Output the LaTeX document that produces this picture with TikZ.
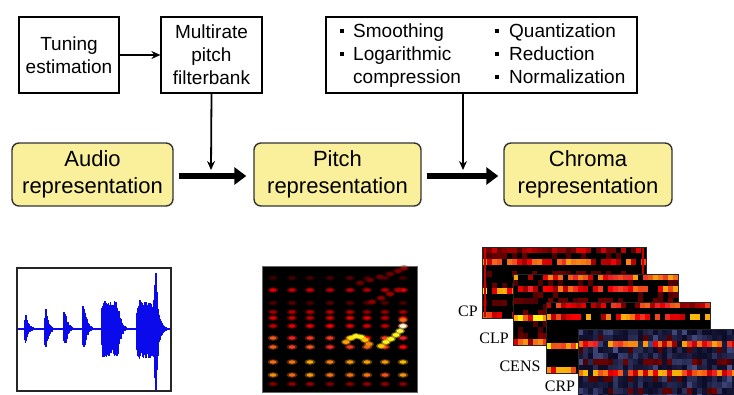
\documentclass[tikz,border=0pt]{standalone}
\usepackage{fontspec}
\setmainfont{Liberation Sans}
\newfontfamily\lblfont{Liberation Serif}
\usetikzlibrary{arrows.meta,calc}
\definecolor{boxyellow}{RGB}{250,240,155}
\definecolor{wave}{RGB}{10,10,235}
\definecolor{crpdark}{RGB}{12,12,40}
\definecolor{crplight}{RGB}{80,90,150}
\colorlet{hc}{black}
\newcommand\hotcol[1]{%
  \pgfmathsetmacro\hv{min(1,max(0,#1))}%
  \ifdim\hv pt<0.33pt
    \pgfmathtruncatemacro\hp{\hv/0.33*100}\colorlet{hc}{red!\hp!black}%
  \else\ifdim\hv pt<0.67pt
    \pgfmathtruncatemacro\hp{(\hv-0.33)/0.34*100}\colorlet{hc}{yellow!\hp!red}%
  \else
    \pgfmathtruncatemacro\hp{(\hv-0.67)/0.33*100}\colorlet{hc}{white!\hp!yellow}%
  \fi\fi}
% x0, y0, w, h, last col index, row weights, blue background flag
\newcommand\chromamap[7]{%
  \fill[black] (#1,#2) rectangle ++(#3,#4);
  \pgfmathsetmacro\cw{#3/(#5+1)}%
  \pgfmathsetmacro\rh{#4/12}%
  \foreach \rw [count=\ri from 0] in {#6} {
    \foreach \cc in {0,...,#5} {
      \pgfmathsetmacro\cval{\rw*(0.35+0.65*rnd)*(rnd<0.85)}%
      \ifdim\cval pt>0.1pt
        \hotcol{\cval}%
        \fill[hc] ({#1+\cc*\cw},{#2+\ri*\rh}) rectangle ++(\cw,\rh);
      \else
        \ifnum#7=1
          \pgfmathtruncatemacro\bp{100*rnd*rnd}%
          \fill[crplight!\bp!crpdark] ({#1+\cc*\cw},{#2+\ri*\rh}) rectangle ++(\cw,\rh);
        \fi
      \fi
    }
  }
  \draw[black!85, line width=1pt] (#1,#2) rectangle ++(#3,#4);
}
% x0, len, amp up, amp down, sustain, decay
\newcommand\burst[6]{%
  \foreach \tpos in {0,0.5,...,#2} {
    \pgfmathsetmacro\env{min(1,\tpos/1.2)*((\tpos<#5)+(\tpos>=#5)*exp(-max(0,\tpos-#5)/#6))}%
    \pgfmathsetmacro\wup{#3*\env*(0.55+0.45*rnd)}%
    \pgfmathsetmacro\wdn{#4*\env*(0.55+0.45*rnd)}%
    \draw[wave, line width=1.1pt] ({#1+\tpos},{329-\wup}) -- ({#1+\tpos},{329+\wdn});
  }}
\begin{document}
\begin{tikzpicture}[x=1pt,y=-1pt,
  smallbox/.style={draw=black, line width=1.2pt, fill=white, minimum width=100pt,
    minimum height=76pt, align=center, font=\fontsize{19}{23}\selectfont, inner sep=0pt},
  mainbox/.style={draw=black!80, line width=1.4pt, fill=boxyellow, rounded corners=7pt,
    minimum height=63pt, align=center, font=\fontsize{22}{27}\selectfont, inner sep=0pt},
  thinarrow/.style={-{Stealth[length=9pt,width=8pt,inset=3pt]}, line width=1.8pt},
  thickarrow/.style={-{Triangle[length=12pt,width=17pt]}, line width=6.5pt},
  bul/.style={fill=black, minimum size=4.5pt, inner sep=0pt},
  itm/.style={anchor=base west, font=\fontsize{19}{23}\selectfont, inner sep=0pt},
  lbl/.style={font=\lblfont\fontsize{16}{16}\selectfont, inner sep=0pt}]
\useasboundingbox[fill=white] (0,0) rectangle (734,394);
\pgfmathsetseed{7}

% top boxes
\node[smallbox] (tune) at (69,55) {Tuning\\estimation};
\node[smallbox, minimum width=101pt] (multi) at (211.5,55) {Multirate\\pitch\\filterbank};
\node[draw=black, line width=1.2pt, fill=white, minimum width=311pt, minimum height=76pt, inner sep=0pt] (ops) at (481.5,55) {};
\node[itm] (i1) at (353,37) {Smoothing};
\node[itm] (i2) at (353,60) {Logarithmic};
\node[itm] (i3) at (353,83) {compression};
\node[itm] (i4) at (509,37) {Quantization};
\node[itm] (i5) at (509,60) {Reduction};
\node[itm] (i6) at (509,83) {Normalization};
\node[bul] (b1) at (342,31) {};
\node[bul] (b2) at (342,54) {};
\node[bul] (b4) at (497,31) {};
\node[bul] (b5) at (497,54) {};
\node[bul] (b6) at (497,77) {};

% main boxes
\node[mainbox, minimum width=161pt] (audio) at (92.5,174.5) {Audio\\representation};
\node[mainbox, minimum width=167pt] (pitch) at (337.5,174.5) {Pitch\\representation};
\node[mainbox, minimum width=168pt] (chroma) at (588,174.5) {Chroma\\representation};

% arrows
\draw[thinarrow] (tune) -- (multi);
\coordinate (j1) at (211,170);
\draw[thinarrow] (multi.south) -- (j1);
\coordinate (j2) at (463,170);
\draw[thinarrow] (ops.south -| j2) -- (j2);
\draw[thickarrow] ([xshift=5pt,yshift=-1.5pt]audio.east) -- ([xshift=-7pt,yshift=-1.5pt]pitch.west);
\draw[thickarrow] ([xshift=5pt,yshift=-1.5pt]pitch.east) -- ([xshift=-5pt,yshift=-1.5pt]chroma.west);

% waveform
\fill[white] (17,268) rectangle (171,391);
\draw[wave, line width=1.2pt] (18,329) -- (170,329);
\burst{24}{12}{17}{14}{2}{3}
\burst{44}{12}{21}{20}{2}{3}
\burst{63}{12}{24}{20}{2}{3}
\burst{82}{12}{32}{24}{2}{3}
\burst{101}{26}{28}{28}{17}{3}
\burst{136}{32}{30}{30}{22}{3}
\draw[wave, line width=1.8pt] (156,273) -- (156,390);
\draw[wave, line width=1.2pt] (154.5,285) -- (154.5,378);
\draw[wave, line width=1.2pt] (157.5,292) -- (157.5,370);
\draw[black!85, line width=1.2pt] (17,268) rectangle (171,391);

% pitch image
\fill[black] (262,266) rectangle (417,392);
\foreach \cx in {273,292,310,330,350,367,385,403} {
  \foreach \cy/\rw in {278/0.1, 290/0.28, 303/0.1, 312/0.22, 318/0.28, 326/0.3, 338/0.4, 347/0.4, 362/0.55, 375/0.5, 384/0.2} {
    \pgfmathsetmacro\cval{\rw*(0.8+0.3*rnd)}%
    \hotcol{\cval}%
    \fill[hc, opacity=0.4] (\cx,\cy) ellipse [x radius=5.5pt, y radius=2.8pt];
    \fill[hc] (\cx,\cy) ellipse [x radius=3.3pt, y radius=1.7pt];
  }}
\foreach \cx/\cy/\rw in {346/342/0.55, 351/338/0.65, 356/336/0.72, 361/337/0.7, 365/340/0.6, 369/344/0.5,
    381/346/0.6, 386/342/0.7, 391/339/0.72, 396/335/0.72, 400/331/0.75, 403/326/0.95, 403/320/0.45,
    360/283/0.14, 370/280/0.14, 380/277/0.14, 390/274/0.14, 398/271/0.16, 404/268/0.2,
    372/302/0.18, 381/298/0.18, 390/294/0.2, 398/290/0.22} {
  \hotcol{\rw}%
  \fill[hc, opacity=0.45] (\cx,\cy) ellipse [x radius=5pt, y radius=3pt];
  \fill[hc] (\cx,\cy) ellipse [x radius=3.5pt, y radius=1.9pt];
}
\draw[black!60, line width=0.6pt] (262,266) rectangle (417,392);

% chroma images
\chromamap{482}{247}{164}{71}{32}{0.3,0.14,0.55,0.1,0.14,0.1,0.14,0.8,0.1,0.14,0.1,0.55}{0}
\draw[red!80!black, line width=1.5pt] (485,248) -- (485,317);
\draw[red!80!black, line width=1.5pt] (643,248) -- (643,317);
\chromamap{513}{274}{165}{71}{32}{0.55,0.12,0.55,0.14,0.16,0.12,0.16,0.8,0.12,0.14,0.16,0.55}{0}
\chromamap{546}{302}{164}{71}{32}{0.45,0.08,0.6,0.05,0.05,0.05,0.05,0.75,0.05,0.05,0.05,0.6}{0}
\chromamap{578}{329}{164}{71}{32}{0.1,0.12,0.55,0.12,0.1,0.16,0.1,0.6,0.12,0.1,0.16,0.1}{1}

\node[lbl] (lcp) at (468,311) {CP};
\node[lbl] (lclp) at (494,338) {CLP};
\node[lbl] (lcens) at (520,366) {CENS};
\node[lbl] (lcrp) at (560,386) {CRP};
\end{tikzpicture}
\end{document}
